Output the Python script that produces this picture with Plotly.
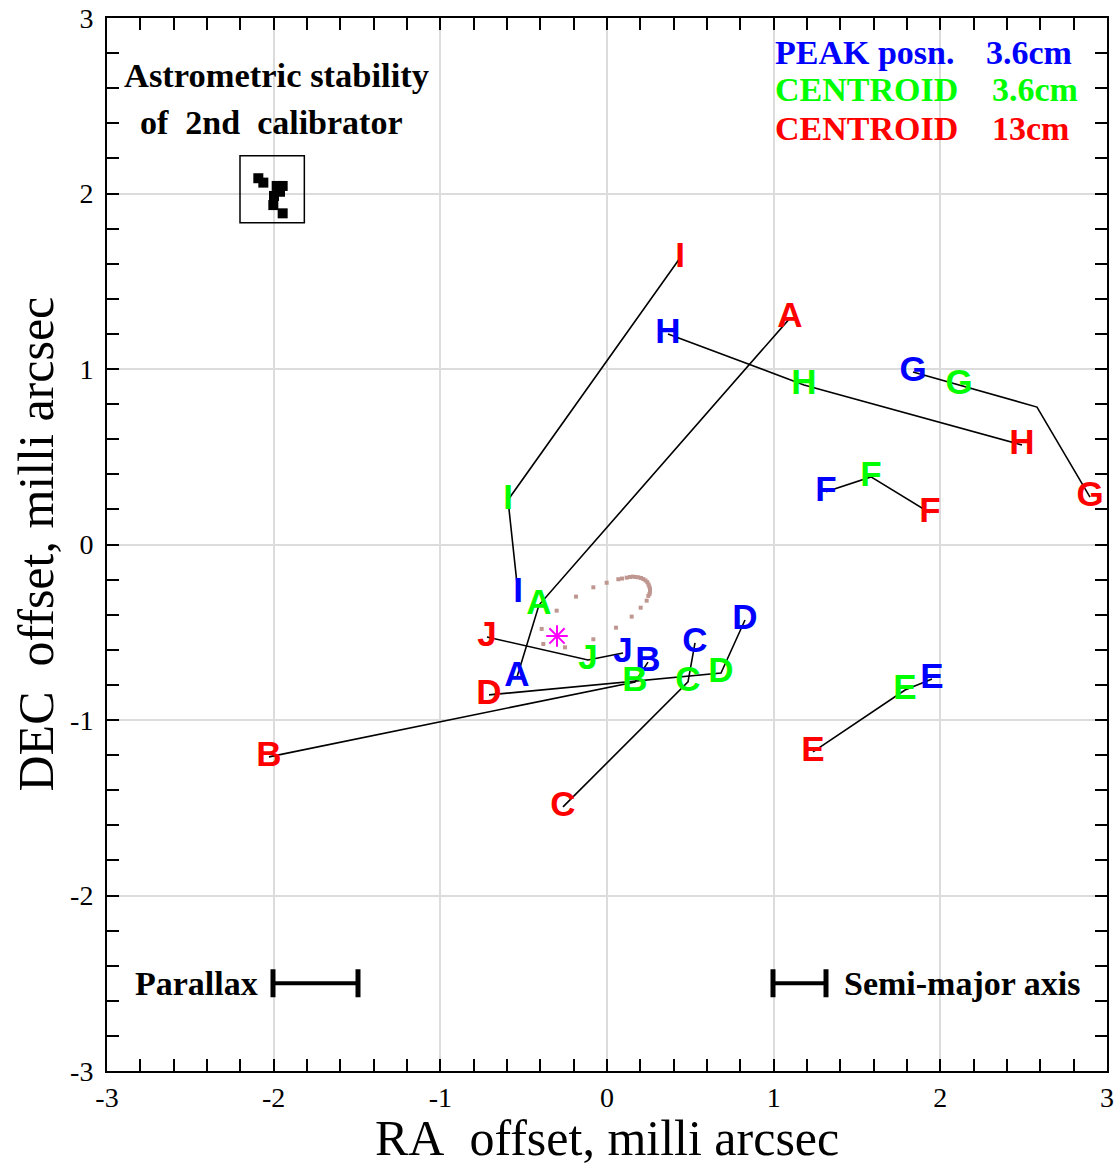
import plotly.graph_objects as go

# ---------------- data (milli-arcsec) ----------------
epochs = ["A", "B", "C", "D", "E", "F", "G", "H", "I", "J"]

# PEAK position 3.6cm (blue)
peak_x = [-0.54, 0.246, 0.528, 0.828, 1.95, 1.314, 1.836, 0.366, -0.534, 0.096]
peak_y = [-0.755, -0.67, -0.56, -0.43, -0.766, 0.30, 0.983, 1.20, -0.276, -0.618]
# CENTROID 3.6cm (green)
cen36_x = [-0.408, 0.168, 0.486, 0.684, 1.788, 1.584, 2.112, 1.182, -0.594, -0.114]
cen36_y = [-0.345, -0.783, -0.783, -0.732, -0.829, 0.385, 0.909, 0.909, 0.254, -0.658]
# CENTROID 13cm (red)
cen13_x = [1.098, -2.028, -0.264, -0.708, 1.236, 1.938, 2.898, 2.49, 0.438, -0.72]
cen13_y = [1.29, -1.21, -1.495, -0.857, -1.182, 0.18, 0.27, 0.567, 1.632, -0.527]

# extra bend in the track of epoch G
g_bend_x = 2.58
g_bend_y = 0.783

# model trajectory (dotted loop)
traj_x = [-0.252, -0.382, -0.392, -0.302, -0.186, -0.082, -0.002, 0.068, 0.090, 0.118,
          0.138, 0.154, 0.171, 0.188, 0.204, 0.218, 0.231, 0.242, 0.249, 0.254,
          0.258, 0.258, 0.255, 0.248, 0.238, 0.202, 0.148, 0.054, -0.082]
traj_y = [-0.586, -0.567, -0.481, -0.377, -0.297, -0.244, -0.218, -0.198, -0.194, -0.189,
          -0.185, -0.183, -0.185, -0.187, -0.191, -0.197, -0.205, -0.215, -0.228, -0.240,
          -0.254, -0.269, -0.282, -0.293, -0.320, -0.360, -0.411, -0.474, -0.540]

# reference position (asterisk)
ref_x = [-0.30]
ref_y = [-0.521]

# second calibrator stability inset
cal_x = [-2.092, -2.062, -1.982, -1.946, -1.962, -1.998, -2.002, -1.946]
cal_y = [2.087, 2.062, 2.043, 2.043, 2.010, 1.986, 1.934, 1.887]
cal_box_x = [-2.202, -1.816]
cal_box_y = [1.834, 2.215]

# scale bars
parallax_x = [-2.004, -1.494]
semimajor_x = [0.996, 1.314]
bar_y = -2.5

legend_names = ["PEAK posn.", "CENTROID", "CENTROID"]
legend_units = ["3.6cm", "3.6cm", "13cm"]
legend_colors = ["#0000ff", "#00ff00", "#ff0000"]
legend_y = [2.806, 2.59, 2.373]
legend_name_x = 0.996
legend_unit_x = [2.262, 2.298, 2.298]

tick_vals = [-3, -2, -1, 0, 1, 2, 3]
tick_text = ["-3", "-2", "-1", "0", "1", "2", "3"]

# ---------------- figure ----------------
fig = go.Figure()

# connecting tracks per epoch: peak -> centroid 3.6 -> centroid 13
lx, ly = [], []
for i, e in enumerate(epochs):
    xs = [peak_x[i], cen36_x[i]]
    ys = [peak_y[i], cen36_y[i]]
    if e == "G":
        xs.append(g_bend_x)
        ys.append(g_bend_y)
    xs.append(cen13_x[i])
    ys.append(cen13_y[i])
    lx += xs + [None]
    ly += ys + [None]
fig.add_trace(go.Scatter(x=lx, y=ly, mode="lines",
                         line=dict(color="black", width=1.6), hoverinfo="skip"))

# model trajectory
fig.add_trace(go.Scatter(x=traj_x, y=traj_y, mode="markers",
                         marker=dict(symbol="square", size=4, color="#bf9690"),
                         hoverinfo="skip"))
# asterisk
fig.add_trace(go.Scatter(x=ref_x, y=ref_y, mode="markers",
                         marker=dict(symbol="asterisk-open", size=18, color="#ff00ff",
                                     line=dict(color="#ff00ff", width=2)),
                         hoverinfo="skip"))

# labels
label_font = "Liberation Sans, Arial, sans-serif"
for xs, ys, col in [(peak_x, peak_y, "#0000ff"), (cen36_x, cen36_y, "#00ff00"),
                    (cen13_x, cen13_y, "#ff0000")]:
    fig.add_trace(go.Scatter(x=xs, y=ys, mode="text", text=epochs,
                             textposition="middle center",
                             textfont=dict(family=label_font, size=35, color=col,
                                           weight="bold"),
                             hoverinfo="skip"))

# calibrator inset
fig.add_shape(type="rect", xref="x", yref="y",
              x0=cal_box_x[0], x1=cal_box_x[1], y0=cal_box_y[0], y1=cal_box_y[1],
              line=dict(color="black", width=1.5))
fig.add_trace(go.Scatter(x=cal_x, y=cal_y, mode="markers",
                         marker=dict(symbol="square", size=10, color="black"),
                         hoverinfo="skip"))

# scale bars
for bx in (parallax_x, semimajor_x):
    fig.add_trace(go.Scatter(x=bx, y=[bar_y, bar_y], mode="lines+markers",
                             line=dict(color="black", width=4),
                             marker=dict(symbol="line-ns-open", size=20, color="black",
                                         line=dict(color="black", width=5)),
                             hoverinfo="skip"))

serif = "Liberation Serif, Times New Roman, serif"
ann = []
for name, unit, col, yy, ux in zip(legend_names, legend_units, legend_colors,
                                    legend_y, legend_unit_x):
    ann.append(dict(x=legend_name_x, y=yy, xref="x", yref="y", text="<b>%s</b>" % name,
                    xanchor="left", yanchor="middle", showarrow=False,
                    font=dict(family=serif, size=34, color=col)))
    ann.append(dict(x=ux, y=yy, xref="x", yref="y", text="<b>%s</b>" % unit,
                    xanchor="left", yanchor="middle", showarrow=False,
                    font=dict(family=serif, size=34, color=col)))

ann.append(dict(x=-1.986, y=2.675, xref="x", yref="y", text="<b>Astrometric stability</b>",
                xanchor="center", yanchor="middle", showarrow=False,
                font=dict(family=serif, size=34.5, color="black")))
ann.append(dict(x=-2.016, y=2.407, xref="x", yref="y",
                text="<b>of\u00a0 2nd\u00a0 calibrator</b>",
                xanchor="center", yanchor="middle", showarrow=False,
                font=dict(family=serif, size=34, color="black")))
ann.append(dict(x=-2.08, y=bar_y, xref="x", yref="y", text="<b>Parallax</b>",
                xanchor="right", yanchor="middle", showarrow=False,
                font=dict(family=serif, size=34, color="black")))
ann.append(dict(x=1.41, y=bar_y, xref="x", yref="y", text="<b>Semi-major axis</b>",
                xanchor="left", yanchor="middle", showarrow=False,
                font=dict(family=serif, size=34, color="black")))
# axis titles
ann.append(dict(x=0.5, y=-0.064, xref="paper", yref="paper",
                text="RA\u00a0 offset, milli arcsec",
                xanchor="center", yanchor="middle", showarrow=False,
                font=dict(family=serif, size=50, color="black")))
ann.append(dict(x=-0.072, y=0.5, xref="paper", yref="paper",
                text="DEC\u00a0 offset, milli arcsec", textangle=-90,
                xanchor="center", yanchor="middle", showarrow=False,
                font=dict(family=serif, size=50, color="black")))

axis_common = dict(
    showline=True, linewidth=2, linecolor="black", mirror="ticks",
    ticks="inside", ticklen=12, tickwidth=1.5, tickcolor="black",
    showgrid=True, gridcolor="#dcdcdc", gridwidth=2, zeroline=False,
    tickfont=dict(family=serif, size=28, color="black"),
    minor=dict(dtick=0.2, ticks="inside", ticklen=12, tickwidth=1.5,
               tickcolor="black", showgrid=False),
    automargin=False, range=[-3, 3],
    tickmode="array", tickvals=tick_vals, ticktext=tick_text,
)

fig.update_layout(
    width=1117, height=1164,
    margin=dict(l=107, r=10, t=18, b=93, autoexpand=False),
    paper_bgcolor="white", plot_bgcolor="white",
    showlegend=False,
    annotations=ann,
    xaxis=dict(ticklabelstandoff=0, **axis_common),
    yaxis=dict(ticklabelstandoff=6, **axis_common),
)

fig.write_html("out.html")
